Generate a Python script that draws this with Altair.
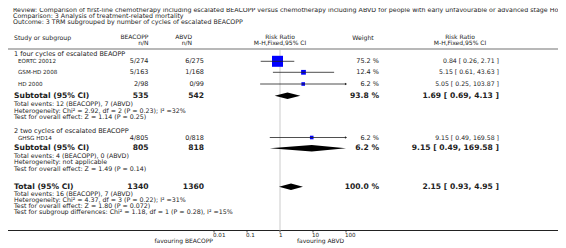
import altair as alt
import pandas as pd

# ---------------- data ----------------
title_lines = [
    "Review:  Comparison of first-line chemotherapy including escalated BEACOPP versus chemotherapy including ABVD for people with early unfavourable or advanced stage Hodgkin lymphoma",
    "Comparison:  3 Analysis of treatment-related mortality",
    "Outcome:  3 TRM subgrouped by number of cycles of escalated BEACOPP",
]
group_labels = ["1 four cycles of escalated BEAOPP", "2 two cycles of escalated BEACOPP"]

studies = ["EORTC 20012", "GSM-HD 2008", "HD 2000", "GHSG HD14"]
beacopp_nN = ["5/274", "5/163", "2/98", "4/805"]
abvd_nN = ["6/275", "1/168", "0/99", "0/818"]
weight_pct = [75.2, 12.4, 6.2, 6.2]
rr = [0.84, 5.15, 5.05, 9.15]
rr_lo = [0.26, 0.61, 0.25, 0.49]
rr_hi = [2.71, 43.63, 103.87, 169.58]

sub_labels = ["Subtotal (95% CI)", "Subtotal (95% CI)", "Total (95% CI)"]
sub_n_beacopp = ["535", "805", "1340"]
sub_n_abvd = ["542", "818", "1360"]
sub_weight = [93.8, 6.2, 100.0]
sub_rr = [1.69, 9.15, 2.15]
sub_lo = [0.69, 0.49, 0.93]
sub_hi = [4.13, 169.58, 4.95]

stats_lines = [
    ["Total events: 12 (BEACOPP), 7 (ABVD)",
     "Heterogeneity: Chi\u00b2 = 2.92, df = 2 (P = 0.23); I\u00b2 =32%",
     "Test for overall effect: Z = 1.14 (P = 0.25)"],
    ["Total events: 4 (BEACOPP), 0 (ABVD)",
     "Heterogeneity: not applicable",
     "Test for overall effect: Z = 1.49 (P = 0.14)"],
    ["Total events: 16 (BEACOPP), 7 (ABVD)",
     "Heterogeneity: Chi\u00b2 = 4.37, df = 3 (P = 0.22); I\u00b2 =31%",
     "Test for overall effect: Z = 1.80 (P = 0.072)",
     "Test for subgroup differences: Chi\u00b2 = 1.18, df = 1 (P = 0.28), I\u00b2 =15%"],
]

axis_ticks = [0.01, 0.1, 1, 10, 100]
axis_tick_labels = ["0.01", "0.1", "1", "10", "100"]
favour_labels = ["favouring BEACOPP", "favouring ABVD"]

# ---------------- layout (page rows, px) ----------------
Y_TITLE = [9.9, 16.1, 22.3]
Y_HEAD = [37, 43.2]
Y_HLINE = 49
Y_GROUP = [53.5, 131]
Y_STUDY = [61.3, 72.3, 84, 137.5]
Y_SUB = [95.7, 148.3, 186.8]
Y_STATS = [[104, 110.5, 117], [155.7, 162.3, 168.9], [193.8, 199.9, 206.0, 212.1]]
Y_AXIS = 230.5
Y_TICKLAB = 234.6
Y_FAV = 241.3

W, H = 550, 240
FONT = "DejaVu Sans"
TXT = "#222222"
FS = 6.5
FSB = 7.6

yscale = alt.Scale(domain=[8, 8 + H], range=[0, H])
xscale = alt.Scale(type="log", domain=[0.01, 100], range=[214 - 8, 346 - 8], clamp=True)


def X(px):
    return alt.value(px - 8)


def Yf(field):
    return alt.Y(field, scale=yscale, axis=None)


def Xf(field):
    return alt.X(field, scale=xscale, axis=None)


def text_layer(texts, ys, x_px, align="left", bold=False, size=FS, color=TXT):
    df = pd.DataFrame({"t": texts, "y": ys})
    return alt.Chart(df).mark_text(
        align=align, baseline="middle", font=FONT, fontSize=size,
        fontWeight="bold" if bold else "normal", color=color,
    ).encode(x=X(x_px), y=Yf("y:Q"), text="t:N")


layers = []
# titles
layers.append(text_layer(title_lines, Y_TITLE, 13, size=6.3))
# headers
layers.append(text_layer(["Study or subgroup"], [38], 14, size=6.2))
layers.append(text_layer(["BEACOPP", "n/N"], Y_HEAD, 148.5, align="right", size=6))
layers.append(text_layer(["ABVD", "n/N"], Y_HEAD, 192, align="right", size=6))
layers.append(text_layer(["Risk Ratio", "M-H,Fixed,95% CI"], Y_HEAD, 280, align="center", size=6))
layers.append(text_layer(["Weight"], [37.5], 363, align="center", size=6.2))
layers.append(text_layer(["Risk Ratio", "M-H,Fixed,95% CI"], Y_HEAD, 460, align="center", size=6))

# group labels, studies
layers.append(text_layer(group_labels, Y_GROUP, 14))
layers.append(text_layer(studies, Y_STUDY, 18, size=5.6))
layers.append(text_layer(beacopp_nN, Y_STUDY, 148.5, align="right"))
layers.append(text_layer(abvd_nN, Y_STUDY, 204, align="right"))
layers.append(text_layer([f"{w:.1f} %" for w in weight_pct], Y_STUDY, 379, align="right"))
layers.append(text_layer([f"{a:.2f} [ {b:.2f}, {c:.2f} ]" for a, b, c in zip(rr, rr_lo, rr_hi)],
                         Y_STUDY, 499, align="right", size=6.2))

# subtotals
layers.append(text_layer(sub_labels, Y_SUB, 14, bold=True, size=FSB))
layers.append(text_layer(sub_n_beacopp, Y_SUB, 148.5, align="right", bold=True, size=FSB))
layers.append(text_layer(sub_n_abvd, Y_SUB, 204, align="right", bold=True, size=FSB))
layers.append(text_layer([f"{w:.1f} %" for w in sub_weight], Y_SUB, 379, align="right", bold=True, size=FSB))
layers.append(text_layer([f"{a:.2f} [ {b:.2f}, {c:.2f} ]" for a, b, c in zip(sub_rr, sub_lo, sub_hi)],
                         Y_SUB, 499, align="right", bold=True, size=FSB))

# stats lines
all_stats = [s for grp in stats_lines for s in grp]
all_stats_y = [y for grp in Y_STATS for y in grp]
layers.append(text_layer(all_stats, all_stats_y, 14, size=6.3))

# rules: header line, axis line
layers.append(alt.Chart(pd.DataFrame({"y": [Y_HLINE]})).mark_rule(color="#a0a0a0", strokeWidth=1.5)
              .encode(x=alt.value(0), x2=alt.value(W), y=Yf("y:Q")))
layers.append(alt.Chart(pd.DataFrame({"y": [Y_AXIS]})).mark_rule(color="#222222", strokeWidth=1)
              .encode(x=alt.value(0), x2=alt.value(W), y=Yf("y:Q")))

# vertical line of no effect
layers.append(alt.Chart(pd.DataFrame({"v": [1.0], "y1": [Y_HLINE + 1], "y2": [Y_AXIS]}))
              .mark_rule(color="#dcdcdc", strokeWidth=1.5)
              .encode(x=Xf("v:Q"), y=Yf("y1:Q"), y2="y2:Q"))

# axis ticks and labels
tick_df = pd.DataFrame({"v": axis_ticks, "lab": axis_tick_labels,
                        "y1": [Y_AXIS] * 5, "y2": [Y_AXIS + 2] * 5, "yl": [Y_TICKLAB] * 5})
layers.append(alt.Chart(tick_df).mark_rule(color="#222222", strokeWidth=0.8)
              .encode(x=Xf("v:Q"), y=Yf("y1:Q"), y2="y2:Q"))
layers.append(alt.Chart(tick_df).mark_text(align="left", baseline="middle", font=FONT, fontSize=5.6,
                                           color=TXT, dx=-1)
              .encode(x=Xf("v:Q"), y=Yf("yl:Q"), text="lab:N"))
layers.append(text_layer([favour_labels[0]], [Y_FAV], 213, align="right", size=6.0))
layers.append(text_layer([favour_labels[1]], [Y_FAV], 297, align="left", size=6.0))

# study CIs + squares
study_df = pd.DataFrame({"study": studies, "rr": rr, "lo": rr_lo, "hi": rr_hi,
                         "w": weight_pct, "y": Y_STUDY})
layers.append(alt.Chart(study_df).mark_square(color="#0000ff", opacity=1)
              .encode(x=Xf("rr:Q"), y=Yf("y:Q"),
                      size=alt.Size("w:Q", scale=alt.Scale(domain=[6.2, 75.2], range=[13, 121]), legend=None)))
layers.append(alt.Chart(study_df).mark_rule(color="#222222", strokeWidth=0.8)
              .encode(x=Xf("lo:Q"), x2="hi:Q", y=Yf("y:Q")))
arrow_df = study_df[study_df["hi"] > 100].reset_index(drop=True)
layers.append(alt.Chart(arrow_df).mark_point(shape="triangle-right", filled=True, color="#222222",
                                             size=6, opacity=1)
              .encode(x=Xf("hi:Q"), y=Yf("y:Q")))

# diamonds
HALF = 3.2
drows = []
for i, (e, a, b, yc) in enumerate(zip(sub_rr, sub_lo, sub_hi, Y_SUB)):
    drows += [
        {"d": i, "x": a, "ya": yc, "yb": yc},
        {"d": i, "x": e, "ya": yc - HALF, "yb": yc + HALF},
        {"d": i, "x": min(b, 100), "ya": yc, "yb": yc},
    ]
dia_df = pd.DataFrame(drows)
layers.append(alt.Chart(dia_df).mark_area(color="#000000", opacity=1)
              .encode(x=Xf("x:Q"), y=Yf("ya:Q"), y2="yb:Q", detail="d:N"))

chart = (alt.layer(*layers)
         .properties(width=W, height=H, padding=0,
                     autosize=alt.AutoSizeParams(type="none"))
         .configure_view(strokeWidth=0))

chart.save("out.html", embed_options={"renderer": "svg", "actions": False})
